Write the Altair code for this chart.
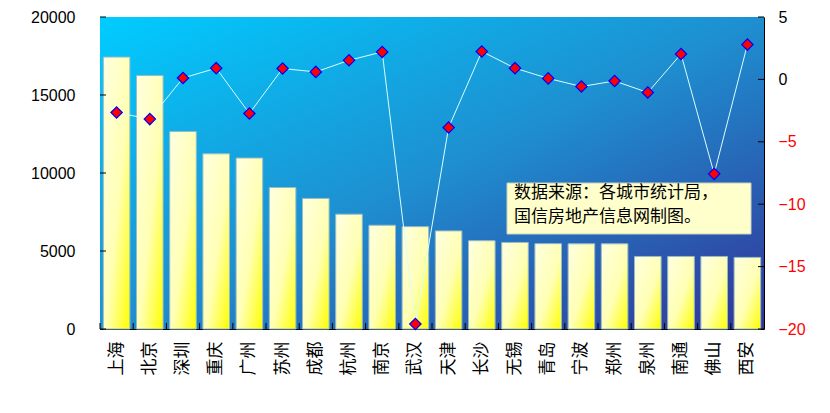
import altair as alt
import pandas as pd

cities = ["上海", "北京", "深圳", "重庆", "广州", "苏州", "成都", "杭州", "南京", "武汉",
          "天津", "长沙", "无锡", "青岛", "宁波", "郑州", "泉州", "南通", "佛山", "西安"]
bar_values = [17430, 16250, 12660, 11230, 10960, 9070, 8370, 7360, 6650, 6560,
              6290, 5660, 5550, 5470, 5460, 5460, 4650, 4650, 4650, 4590]
line_values = [-2.65, -3.18, 0.11, 0.90, -2.73, 0.87, 0.60, 1.53, 2.20, -19.6,
               -3.86, 2.24, 0.90, 0.08, -0.57, -0.13, -1.05, 2.03, -7.57, 2.79]
left_ticks = [0, 5000, 10000, 15000, 20000]
right_ticks = [-20, -15, -10, -5, 0, 5]
note_lines = ["数据来源：各城市统计局，", "国信房地产信息网制图。"]

W, H = 664, 312

df = pd.DataFrame({"city": cities, "gdp": bar_values, "growth": line_values})
df_left = pd.DataFrame({"v": left_ticks})
df_right = pd.DataFrame({"v": right_ticks})
one = pd.DataFrame({"a": [0]})

xscale = alt.Scale(domain=cities, paddingInner=0.2, paddingOuter=0.1)
xaxis = alt.Axis(title=None, labelAngle=-90, labelFont="Noto Sans CJK SC", labelFontSize=17,
                 labelColor="black", ticks=False, tickSize=0, labelPadding=12,
                 domainColor="black", domainWidth=1)
yl_scale = alt.Scale(domain=[0, 20000], nice=False, zero=False)
yr_scale = alt.Scale(domain=[-20, 5], nice=False, zero=False)
laxis = alt.Axis(title=None, orient="left", values=left_ticks, format="d", ticks=False,
                 tickSize=0, grid=False, labelFont="Liberation Sans", labelFontSize=16,
                 labelColor="black", labelPadding=25, domainColor="black", domainWidth=1)
raxis = alt.Axis(title=None, orient="right", values=right_ticks, format="d", ticks=False,
                 tickSize=0, grid=False, labelFont="Liberation Sans", labelFontSize=16,
                 labelColor={"condition": {"test": "datum.value < 0", "value": "#FF0000"},
                             "value": "#000000"},
                 labelPadding=14, domainColor="black", domainWidth=1)

bg = alt.Chart(one).mark_rect(
    fill=alt.Gradient(gradient="linear",
                      stops=[alt.GradientStop(color="#00CCFF", offset=0),
                             alt.GradientStop(color="#1E8FD0", offset=0.5),
                             alt.GradientStop(color="#333399", offset=1)],
                      x1=0, y1=0, x2=1, y2=1)
).encode(x=alt.value(0), x2=alt.value(W), y=alt.value(0), y2=alt.value(H))

bars = alt.Chart(df).mark_bar(
    fill=alt.Gradient(gradient="linear",
                      stops=[alt.GradientStop(color="#FFFFE0", offset=0),
                             alt.GradientStop(color="#FFFFB4", offset=0.55),
                             alt.GradientStop(color="#FFFF00", offset=1)],
                      x1=0, y1=0, x2=1, y2=1),
    stroke="#96BCC4", strokeWidth=1
).encode(
    x=alt.X("city:N", scale=xscale, axis=xaxis, sort=cities),
    y=alt.Y("gdp:Q", scale=yl_scale, axis=laxis),
)

lticks = alt.Chart(df_left).mark_rule(color="black", strokeWidth=1).encode(
    y=alt.Y("v:Q", scale=yl_scale, axis=laxis), x=alt.value(0), x2=alt.value(6))

left = alt.layer(bars, lticks)

line = alt.Chart(df).mark_line(color="#D8FFFF", strokeWidth=1).encode(
    x=alt.X("city:N", scale=xscale, axis=xaxis, sort=cities),
    y=alt.Y("growth:Q", scale=yr_scale, axis=raxis),
)
pts = alt.Chart(df).mark_point(shape="diamond", filled=True, fill="#FF0000", stroke="#0000FF",
                               strokeWidth=1.2, size=130, opacity=1).encode(
    x=alt.X("city:N", scale=xscale, axis=xaxis, sort=cities),
    y=alt.Y("growth:Q", scale=yr_scale, axis=raxis),
)
rticks = alt.Chart(df_right).mark_rule(color="black", strokeWidth=1).encode(
    y=alt.Y("v:Q", scale=yr_scale, axis=raxis), x=alt.value(W - 6), x2=alt.value(W))

right = alt.layer(line, pts, rticks)

xticks = alt.Chart(df).mark_rule(color="black", strokeWidth=1, xOffset=-3.3).encode(
    x=alt.X("city:N", scale=xscale, axis=xaxis, sort=cities, bandPosition=0),
    y=alt.value(H - 6), y2=alt.value(H))

box = alt.Chart(one).mark_rect(fill="#FFFFCC", stroke="#C8D0C0", strokeWidth=1).encode(
    x=alt.value(407), x2=alt.value(651), y=alt.value(166), y2=alt.value(217))
note = alt.Chart(one).mark_text(align="left", baseline="top", font="Noto Sans CJK SC",
                                fontSize=17, lineHeight=24, color="black").encode(
    x=alt.value(414), y=alt.value(168), text=alt.value(note_lines))

chart = alt.layer(bg, left, right, xticks, box, note).resolve_scale(y="independent").properties(
    width=W, height=H,
    autosize=alt.AutoSizeParams(type="none"),
    padding={"left": 92, "top": 9, "right": 58, "bottom": 80},
).configure_view(stroke="#A8EEFF", strokeWidth=1)

chart.save("out.html", embed_options={"renderer": "svg", "actions": False})
